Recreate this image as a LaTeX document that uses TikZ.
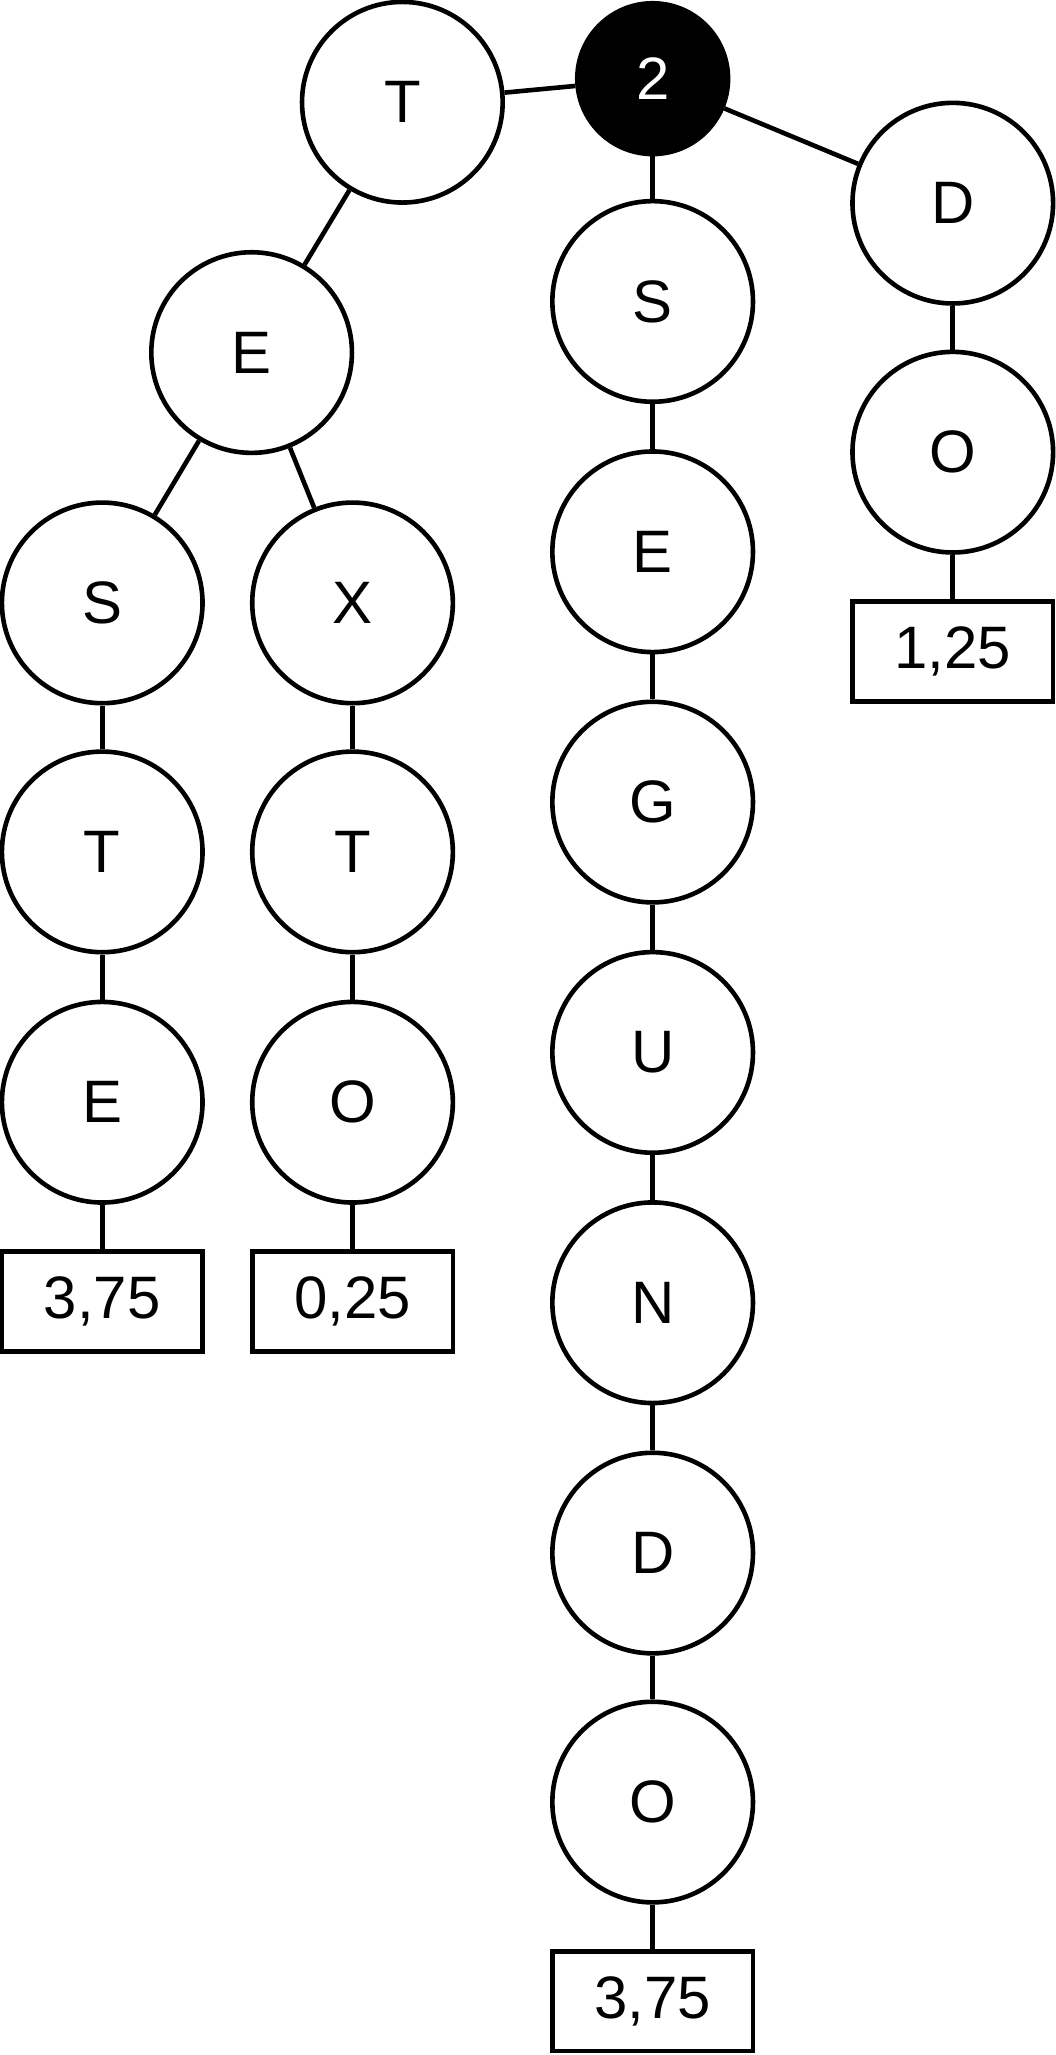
\documentclass[tikz,border=0pt]{standalone}
\usepackage{fontspec}
\setmainfont{Liberation Sans}
\begin{document}
\begin{tikzpicture}[x=0.01cm,y=-0.01cm,line width=1pt,
  letter/.style={circle,draw,minimum size=1.53cm,inner sep=0pt,font=\fontsize{13}{15}\selectfont},
  root/.style={circle,draw,fill=black,text=white,minimum size=1.15cm,inner sep=0pt,font=\fontsize{13}{15}\selectfont},
  leaf/.style={rectangle,draw,minimum width=1.53cm,minimum height=0.76cm,inner sep=0pt,font=\fontsize{13}{15}\selectfont}]
  \useasboundingbox (0,0) rectangle (805,1568);
  % top
  \node[root](r)at(498,60){2};
  \node[letter](t)at(307,78){T};
  \node[letter](d)at(727,155){D};
  % left branch
  \node[letter](te)at(192,269){E};
  \node[letter](tes)at(78,460){S};
  \node[letter](test)at(78,650){T};
  \node[letter](teste)at(78,841){E};
  \node[leaf](teste0)at(78,993){3,75};
  \node[letter](tex)at(269,460){X};
  \node[letter](text)at(269,650){T};
  \node[letter](texto)at(269,841){O};
  \node[leaf](texto0)at(269,993){0,25};
  % middle branch
  \node[letter](s)at(498,230){S};
  \node[letter](se)at(498,421){E};
  \node[letter](seg)at(498,612){G};
  \node[letter](segu)at(498,803){U};
  \node[letter](segun)at(498,994){N};
  \node[letter](segund)at(498,1185){D};
  \node[letter](segundo)at(498,1375){O};
  \node[leaf](segundo0)at(498,1527){3,75};
  % right branch
  \node[letter](do)at(727,345){O};
  \node[leaf](do0)at(727,497){1,25};
  % edges
  \draw(r)--(t);
  \draw(r)--(d);
  \draw(r)--(s);
  \draw(t)--(te);
  \draw(te)--(tes);
  \draw(te)--(tex);
  \draw(tes)--(test);
  \draw(test)--(teste);
  \draw(teste)--(teste0);
  \draw(tex)--(text);
  \draw(text)--(texto);
  \draw(texto)--(texto0);
  \draw(s)--(se);
  \draw(se)--(seg);
  \draw(seg)--(segu);
  \draw(segu)--(segun);
  \draw(segun)--(segund);
  \draw(segund)--(segundo);
  \draw(segundo)--(segundo0);
  \draw(d)--(do);
  \draw(do)--(do0);
\end{tikzpicture}
\end{document}
